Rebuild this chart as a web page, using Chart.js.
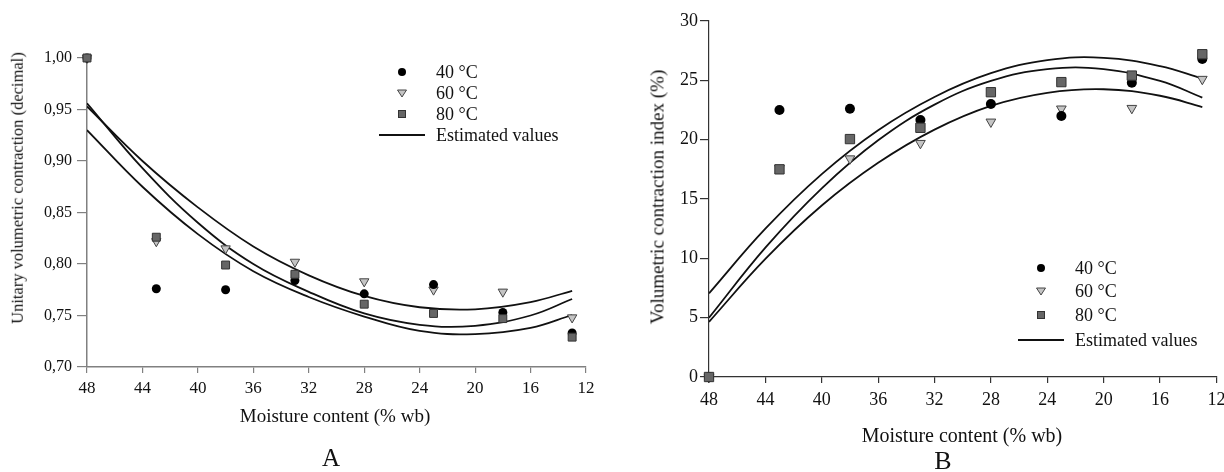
<!DOCTYPE html>
<html>
<head>
<meta charset="utf-8">
<script src="https://cdn.jsdelivr.net/npm/chart.js@4.4.1/dist/chart.umd.min.js"></script>
<style>
    body { margin: 0; background: #fff; width: 1224px; height: 472px; position: relative; overflow: hidden;
           font-family: 'Liberation Serif', 'Times New Roman', serif; color: #111; }
    canvas { position: absolute; top: 0; }
    #chartA { left: 0; }
    #chartB { left: 612px; }
    .lbl { position: absolute; white-space: nowrap; line-height: 1; transform: translate(-50%, -50%); }
    .rot { transform: translate(-50%, -50%) rotate(-90deg); }
    .leg { position: absolute; white-space: nowrap; line-height: 1; transform: translateY(-50%); }
    .mk { position: absolute; overflow: visible; }
</style>
</head>
<body>
<canvas id="chartA" width="612" height="472"></canvas>
<canvas id="chartB" width="612" height="472"></canvas>

<!-- axis titles and panel letters -->
<div class="lbl rot" style="left:18px; top:188px; font-size:16.5px;">Unitary volumetric contraction (decimal)</div>
<div class="lbl" style="left:335px; top:415px; font-size:19px;">Moisture content (% wb)</div>
<div class="lbl" style="left:331px; top:457px; font-size:25px;">A</div>

<div class="lbl rot" style="left:657px; top:197px; font-size:19px;">Volumetric contraction index (%)</div>
<div class="lbl" style="left:962px; top:435px; font-size:20px;">Moisture content (% wb)</div>
<div class="lbl" style="left:943px; top:461px; font-size:26px;">B</div>

<!-- legend A -->
<svg class="mk" style="left:0; top:0;" width="612" height="472">
    <circle cx="402" cy="72" r="4" fill="#000"/>
    <polygon points="397.5,90 406.5,90 402,97" fill="#c4c4c4" stroke="#444" stroke-width="1"/>
    <rect x="398.5" y="110.5" width="7" height="7" fill="#666" stroke="#333" stroke-width="1"/>
    <line x1="379" y1="135" x2="425" y2="135" stroke="#111" stroke-width="2"/>
</svg>
<div class="leg" style="left:436px; top:72px; font-size:18px;">40 °C</div>
<div class="leg" style="left:436px; top:93px; font-size:18px;">60 °C</div>
<div class="leg" style="left:436px; top:114px; font-size:18px;">80 °C</div>
<div class="leg" style="left:436px; top:135px; font-size:18px;">Estimated values</div>

<!-- legend B -->
<svg class="mk" style="left:612px; top:0;" width="612" height="472">
    <circle cx="429" cy="268" r="4" fill="#000"/>
    <polygon points="424.5,288 433.5,288 429,295" fill="#c4c4c4" stroke="#444" stroke-width="1"/>
    <rect x="425.5" y="311.5" width="7" height="7" fill="#666" stroke="#333" stroke-width="1"/>
    <line x1="406" y1="340" x2="452" y2="340" stroke="#111" stroke-width="2"/>
</svg>
<div class="leg" style="left:1075px; top:268px; font-size:18px;">40 °C</div>
<div class="leg" style="left:1075px; top:291px; font-size:18px;">60 °C</div>
<div class="leg" style="left:1075px; top:315px; font-size:18px;">80 °C</div>
<div class="leg" style="left:1075px; top:340px; font-size:18px;">Estimated values</div>

<script>
// moisture content of the samples (% wb)
const moisture = [48, 43, 38, 33, 28, 23, 18, 13];

// A: unitary volumetric contraction (decimal)
const unitA40 = [1.00, 0.776, 0.775, 0.784, 0.771, 0.780, 0.753, 0.733];
const unitA60 = [1.00, 0.822, 0.815, 0.802, 0.783, 0.775, 0.773, 0.748];
const unitA80 = [1.00, 0.826, 0.799, 0.790, 0.761, 0.752, 0.747, 0.729];

// B: volumetric contraction index (%)
const indexB40 = [0, 22.5, 22.6, 21.65, 23.0, 22.0, 24.8, 26.8];
const indexB60 = [0, 17.6, 18.4, 19.7, 21.5, 22.6, 22.65, 25.1];
const indexB80 = [0, 17.5, 20.05, 21.0, 24.0, 24.85, 25.4, 27.2];

// estimated values (the three fitted curves)
const curveX = [48, 44, 40, 36, 32, 28, 24, 20, 16, 13];
const estA1 = [0.953, 0.900, 0.855, 0.817, 0.789, 0.769, 0.758, 0.756, 0.763, 0.774];
const estA2 = [0.956, 0.893, 0.840, 0.800, 0.773, 0.752, 0.741, 0.740, 0.750, 0.766];
const estA3 = [0.930, 0.875, 0.829, 0.793, 0.768, 0.749, 0.735, 0.732, 0.738, 0.7505];
const estB1 = [7.05, 12.5, 17.1, 20.8, 23.6, 25.6, 26.7, 26.9, 26.2, 25.15];
const estB2 = [5.0, 10.9, 15.9, 19.95, 22.95, 24.95, 25.95, 25.95, 24.95, 23.55];
const estB3 = [4.65, 9.95, 14.45, 18.05, 20.85, 22.85, 23.95, 24.25, 23.7, 22.75];

// ticks
const xTicks = [48, 44, 40, 36, 32, 28, 24, 20, 16, 12];
const aYTicks = [0.70, 0.75, 0.80, 0.85, 0.90, 0.95, 1.00];
const aYTickLabels = ['0,70', '0,75', '0,80', '0,85', '0,90', '0,95', '1,00'];
const bYTicks = [0, 5, 10, 15, 20, 25, 30];

const serif = "'Liberation Serif', 'Times New Roman', serif";

function pts(xs, ys) {
    return ys.map((y, i) => ({ x: xs[i], y: y }));
}

function markers(d40, d60, d80, size) {
    return [
        { label: '80 °C', data: pts(moisture, d80), pointStyle: 'rect', pointRadius: size.sq,
          backgroundColor: '#666', borderColor: '#333', pointBorderWidth: 1, showLine: false, clip: false, order: 1 },
        { label: '40 °C', data: pts(moisture, d40), pointStyle: 'circle', pointRadius: size.ci,
          backgroundColor: '#000', borderColor: '#000', pointBorderWidth: 0, showLine: false, clip: false, order: 2 },
        { label: '60 °C', data: pts(moisture, d60), pointStyle: 'triangle', pointRotation: 180, pointRadius: size.tr,
          backgroundColor: '#c4c4c4', borderColor: '#444', pointBorderWidth: 1, showLine: false, clip: false, order: 3 }
    ];
}

function curves(list) {
    return list.map((c, i) => ({
        label: 'Estimated values ' + (i + 1),
        data: pts(curveX, c),
        showLine: true, pointRadius: 0, borderColor: '#111', borderWidth: 1.8,
        tension: 0.4, fill: false, order: 4 + i
    }));
}

function fixBox(w, h) {
    return function(scale) {
        if (w) scale.width = w;
        if (h) scale.height = h;
        scale.paddingLeft = 0;
        scale.paddingRight = 0;
        scale.paddingTop = 0;
        scale.paddingBottom = 0;
    };
}

function makeChart(id, opt) {
    const ctx = document.getElementById(id).getContext('2d');
    return new Chart(ctx, {
        type: 'scatter',
        data: { datasets: opt.datasets },
        options: {
            responsive: false,
            animation: false,
            devicePixelRatio: 1,
            layout: { padding: opt.padding },
            plugins: { legend: { display: false }, tooltip: { enabled: false } },
            scales: {
                x: {
                    type: 'linear', reverse: true, min: 12, max: 48,
                    afterBuildTicks: s => { s.ticks = xTicks.map(v => ({ value: v })); },
                    afterFit: fixBox(0, opt.xHeight),
                    grid: { drawOnChartArea: false, drawTicks: true, tickLength: opt.xTick, color: opt.axisColor, lineWidth: 1.2 },
                    border: { display: true, color: opt.axisColor, width: opt.axisWidth },
                    ticks: { font: { family: serif, size: opt.xFont }, color: '#111', padding: opt.xPad, maxRotation: 0 }
                },
                y: {
                    type: 'linear', min: opt.yMin, max: opt.yMax,
                    afterBuildTicks: s => { s.ticks = opt.yTicks.map(v => ({ value: v })); },
                    afterFit: fixBox(opt.yWidth, 0),
                    grid: { drawOnChartArea: false, drawTicks: true, tickLength: opt.yTick, color: opt.axisColor, lineWidth: 1.2 },
                    border: { display: true, color: opt.axisColor, width: opt.axisWidth },
                    ticks: { font: { family: serif, size: opt.yFont }, color: '#111', padding: opt.yPad,
                             callback: opt.yLabel }
                }
            }
        }
    });
}

makeChart('chartA', {
    datasets: markers(unitA40, unitA60, unitA80, { sq: 5.6, ci: 4.5, tr: 5.4 })
        .concat(curves([estA1, estA2, estA3])),
    padding: { top: 58, right: 26, left: 0, bottom: 0 },
    xHeight: 105, yWidth: 87,
    yMin: 0.70, yMax: 1.00, yTicks: aYTicks,
    yLabel: (v) => aYTickLabels[aYTicks.findIndex(t => Math.abs(t - v) < 1e-6)],
    axisColor: '#808080', axisWidth: 1.5,
    xTick: 6, yTick: 10, xFont: 17, yFont: 16, xPad: 5, yPad: 5
});

makeChart('chartB', {
    datasets: markers(indexB40, indexB60, indexB80, { sq: 6.6, ci: 5, tr: 5.6 })
        .concat(curves([estB1, estB2, estB3])),
    padding: { top: 21, right: 7, left: 0, bottom: 0 },
    xHeight: 95, yWidth: 97,
    yMin: 0, yMax: 30, yTicks: bYTicks,
    yLabel: (v) => String(v),
    axisColor: '#333', axisWidth: 1.2,
    xTick: 6, yTick: 9, xFont: 18, yFont: 18, xPad: 6, yPad: 2
});
</script>
</body>
</html>
